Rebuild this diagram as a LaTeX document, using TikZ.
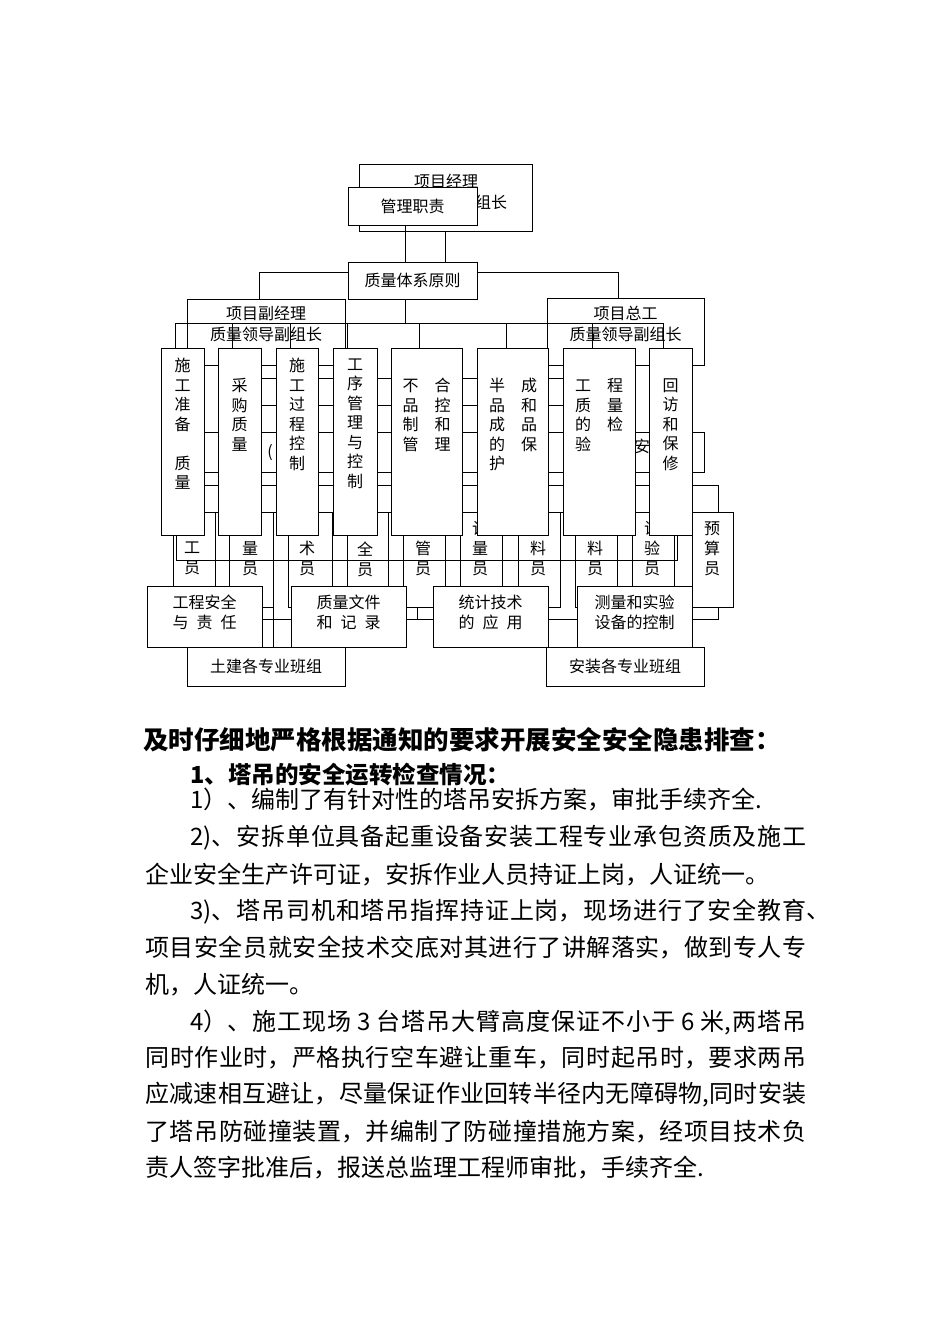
\documentclass[tikz,border=0pt]{standalone}
\usepackage{fontspec}
\setmainfont{Noto Sans CJK SC}
\XeTeXlinebreaklocale "zh"
\XeTeXlinebreakskip=0pt plus 4pt
\newcommand{\jline}[2]{\parbox{#1}{\parfillskip=0pt\relax #2}}
\begin{document}
\begin{tikzpicture}[x=1pt,y=-1pt,line width=0.9pt,
  box/.style={draw,fill=white,inner sep=0pt,outer sep=0pt,font=\fontsize{16}{19.5}\selectfont,align=center},
  hid/.style={draw,inner sep=0pt,outer sep=0pt},
  lbl/.style={inner sep=0pt,font=\fontsize{16}{19.5}\selectfont,align=center},
  lbl2/.style={lbl,font=\fontsize{16}{21}\selectfont},
  vtxt/.style={lbl,anchor=north},
  ptxt/.style={lbl,anchor=north,font=\fontsize{16}{20}\selectfont},
  body/.style={inner sep=0pt,anchor=west,font=\fontsize{24}{28}\selectfont},
  bodyb/.style={body,font=\fontsize{25.5}{28}\selectfont\bfseries},
  bodyc/.style={body,font=\fontsize{23.5}{28}\selectfont\bfseries}]
\useasboundingbox (0,0) rectangle (950,1344);

% ---- top
\node[box,minimum width=173pt,minimum height=67pt] (pm) at (445.5,197.5) {};
\node[lbl] (pmt1) at (446,181) {项目经理};
\node[lbl] (pmt2) at (491,202) {组长};
\node[box,minimum width=129pt,minimum height=38pt] (mgmt) at (412.5,206) {管理职责};
\node[box,minimum width=129pt,minimum height=37pt] (qs) at (412.5,280.5) {质量体系原则};
\coordinate (x405) at (405,0);
\draw (mgmt.south -| x405) -- (qs.north -| x405);
\draw (pm.south) -- (pm.south |- qs.north);

% ---- deputies
\node[box,minimum width=158pt,minimum height=66pt] (vpm) at (266,332) {};
\node[lbl2] (vpmt) at (266,323.5) {项目副经理\\质量领导副组长};
\node[box,minimum width=157pt,minimum height=67pt] (vce) at (625.5,331.5) {};
\node[lbl2] (vcet) at (625.5,323.5) {项目总工\\质量领导副组长};
\coordinate (j1) at (259,272);
\coordinate (j2) at (618,272);
\draw (qs.west |- j1) -| (vpm.north -| j1);
\draw (qs.east |- j2) -| (vce.north -| j2);

% ---- hidden layer
\node[hid,minimum width=360pt,minimum height=27pt] (hH) at (420,391.5) {};
\node[hid,minimum width=514pt,minimum height=40pt] (hA) at (447,452) {};
\node[lbl] (hAt1) at (270,453) {(};
\node[lbl] (hAt2) at (642,446) {安};
\node[hid,minimum width=528pt,minimum height=27pt] (hB) at (454,498.5) {};
\node[hid,minimum width=501pt,minimum height=48pt] (hC) at (426.5,536) {};

\node[hid,minimum width=42pt,minimum height=95pt] (p1) at (194,559.5) {};
\node[hid,minimum width=44pt,minimum height=95pt] (p2) at (251,559.5) {};
\node[hid,minimum width=44pt,minimum height=95pt] (p3) at (310,559.5) {};
\node[hid,minimum width=41pt,minimum height=95pt] (p4) at (367.5,559.5) {};
\node[hid,minimum width=42pt,minimum height=95pt] (p5) at (424,559.5) {};
\node[hid,minimum width=42pt,minimum height=95pt] (p6) at (481,559.5) {};
\node[hid,minimum width=42pt,minimum height=95pt] (p7) at (539,559.5) {};
\node[hid,minimum width=42pt,minimum height=95pt] (p8) at (596,559.5) {};
\node[hid,minimum width=42pt,minimum height=95pt] (p9) at (653,559.5) {};
\node[hid,minimum width=41pt,minimum height=95pt] (p10) at (712.5,559.5) {};
\node[ptxt] (p1t) at (192,541) {工\\员};
\node[ptxt] (p2t) at (250,541) {量\\员};
\node[ptxt] (p3t) at (307,541) {术\\员};
\node[ptxt] (p4t) at (365,541) {全\\员};
\node[ptxt] (p5t) at (423,541) {管\\员};
\node[ptxt] (p6t) at (480,521) {计\\量\\员};
\node[ptxt] (p7t) at (538,541) {料\\员};
\node[ptxt] (p8t) at (595,541) {料\\员};
\node[ptxt] (p9t) at (652,521) {试\\验\\员};
\node[ptxt] (p10t) at (712,521) {预\\算\\员};

\coordinate (l619) at (262,619);
\coordinate (r619) at (718,619);
\coordinate (k417) at (417,619);
\coordinate (tjtop) at (273,647);
\draw (l619) -- (r619) -- (r619 |- p10.south);
\draw (k417) -- (k417 |- p5.south);
\draw (p2.south east) -- (tjtop);

% ---- vertical boxes
\node[box,minimum width=43pt,minimum height=187pt] (v1) at (182.5,441.5) {};
\node[box,minimum width=43pt,minimum height=187pt] (v2) at (239.5,441.5) {};
\node[box,minimum width=42pt,minimum height=187pt] (v3) at (297,441.5) {};
\node[box,minimum width=44pt,minimum height=187pt] (v4) at (355,441.5) {};
\node[box,minimum width=71pt,minimum height=187pt] (v5) at (426.5,441.5) {};
\node[box,minimum width=71pt,minimum height=187pt] (v6) at (512.5,441.5) {};
\node[box,minimum width=72pt,minimum height=187pt] (v7) at (599,441.5) {};
\node[box,minimum width=43pt,minimum height=187pt] (v8) at (670.5,441.5) {};
\node[vtxt] (v1t) at (182.5,358) {施\\工\\准\\备\\[19.5pt]质\\量};
\node[vtxt] (v2t) at (239.5,378) {采\\购\\质\\量};
\node[vtxt] (v3t) at (297,358) {施\\工\\过\\程\\控\\制};
\node[vtxt] (v4t) at (355,358) {工\\序\\管\\理\\与\\控\\制};
\node[vtxt] (v5t) at (426.5,378) {不　合\\品　控\\制　和\\管　理};
\node[vtxt] (v6t) at (513,378) {半　成\\品　和\\成　品\\的　保\\护　　};
\node[vtxt] (v7t) at (599,378) {工　程\\质　量\\的　检\\验　　};
\node[vtxt] (v8t) at (670.5,378) {回\\访\\和\\保\\修};

% ---- bus and drops
\coordinate (b0) at (405,323);
\coordinate (d1) at (175,323);
\coordinate (d2) at (232,323);
\coordinate (d3) at (290,323);
\coordinate (d4) at (347,323);
\coordinate (d5) at (419,323);
\coordinate (d6) at (506,323);
\coordinate (d7) at (592,323);
\coordinate (d8) at (663,323);
\draw (qs.south -| b0) -- (b0);
\draw (d1) -- (d8);
\draw (d1) -- (v1.north -| d1);
\draw (d2) -- (v2.north -| d2);
\draw (d3) -- (v3.north -| d3);
\draw (d4) -- (v4.north -| d4);
\draw (d5) -- (v5.north -| d5);
\draw (d6) -- (v6.north -| d6);
\draw (d7) -- (v7.north -| d7);
\draw (d8) -- (v8.north -| d8);

% ---- bottom boxes
\node[box,minimum width=158pt,minimum height=39pt] (tj) at (266,666.5) {土建各专业班组};
\node[box,minimum width=158pt,minimum height=39pt] (az) at (625,666.5) {安装各专业班组};
\node[box,minimum width=115pt,minimum height=61pt] (ea) at (204.5,616.5) {};
\node[box,minimum width=115pt,minimum height=61pt] (qf) at (348.5,616.5) {};
\node[box,minimum width=115pt,minimum height=61pt] (st) at (490.5,616.5) {};
\node[box,minimum width=115pt,minimum height=61pt] (cm) at (634.5,616.5) {};
\node[lbl] (eat) at (204.5,612.5) {工程安全\\与\hspace{8pt}责\hspace{8pt}任};
\node[lbl] (qft) at (348.5,612.5) {质量文件\\和\hspace{8pt}记\hspace{8pt}录};
\node[lbl] (stt) at (490.5,612.5) {统计技术\\的\hspace{8pt}应\hspace{8pt}用};
\node[lbl] (cmt) at (634.5,612.5) {测量和实验\\设备的控制};

% ---- body text
\node[bodyb] (t1) at (143,740) {及时仔细地严格根据通知的要求开展安全安全隐患排查：};
\node[bodyc] (t2) at (190,775) {1、塔吊的安全运转检查情况：};
\node[body] (t3) at (190,800) {1）、编制了有针对性的塔吊安拆方案，审批手续齐全.};
\node[body] (t4) at (190,838) {\jline{616pt}{2)、安拆单位具备起重设备安装工程专业承包资质及施工}};
\node[body] (t5) at (145,875) {企业安全生产许可证，安拆作业人员持证上岗，人证统一。};
\node[body] (t6) at (190,912) {\jline{616pt}{3)、塔吊司机和塔吊指挥持证上岗，现场进行了安全教育}、};
\node[body] (t7) at (145,948) {\jline{661pt}{项目安全员就安全技术交底对其进行了讲解落实，做到专人专}};
\node[body] (t8) at (145,985) {机，人证统一。};
\node[body] (t9) at (190,1022) {\jline{616pt}{4）、施工现场 3 台塔吊大臂高度保证不小于 6 米,两塔吊}};
\node[body] (t10) at (145,1058) {\jline{661pt}{同时作业时，严格执行空车避让重车，同时起吊时，要求两吊}};
\node[body] (t11) at (145,1095) {\jline{661pt}{应减速相互避让，尽量保证作业回转半径内无障碍物,同时安装}};
\node[body] (t12) at (145,1132) {\jline{661pt}{了塔吊防碰撞装置，并编制了防碰撞措施方案，经项目技术负}};
\node[body] (t13) at (145,1168) {责人签字批准后，报送总监理工程师审批，手续齐全.};
\end{tikzpicture}
\end{document}
